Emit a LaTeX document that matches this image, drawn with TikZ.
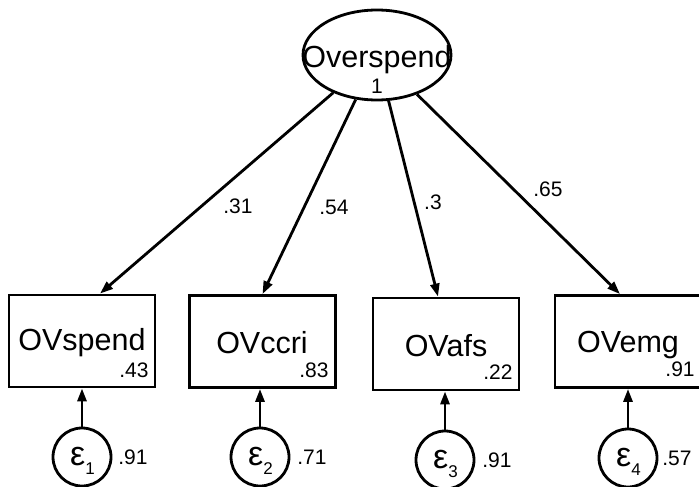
\documentclass[tikz,border=0pt]{standalone}
\usepackage{fontspec}
\setmainfont{Liberation Sans}
\usetikzlibrary{arrows.meta,shapes.geometric}

\begin{document}
\begin{tikzpicture}[x=1pt,y=-1pt,line width=2.8pt,
  latent/.style={draw,ellipse,minimum width=148pt,minimum height=90pt,inner sep=0pt},
  obs/.style={draw,rectangle,minimum width=146pt,minimum height=92pt,inner sep=0pt},
  err/.style={draw,circle,minimum size=58pt,inner sep=0pt},
  bigtxt/.style={font=\fontsize{30.5}{33}\selectfont,inner sep=0pt},
  esttxt/.style={font=\fontsize{21}{24}\selectfont,inner sep=0pt},
  load/.style={-{Triangle[length=13pt,width=9pt]}}]
\useasboundingbox (0,0) rectangle (699,487);
\clip (0,0) rectangle (699,487);

% latent factor
\node[latent] (ov) at (377,55) {};
\node[bigtxt] (ovname) at (377,60) {Overspend};
\node[esttxt] (ovvar) at (377,86) {1};

% observed indicators
\node[obs] (b1) at (82,341) {};
\node[obs] (b2) at (262.5,341.5) {};
\node[obs] (b3) at (446,344) {};
\node[obs] (b4) at (628,341.5) {};

\node[bigtxt] (t1) at (82,343) {OVspend};
\node[bigtxt] (t2) at (262,343) {OVccri};
\node[bigtxt] (t3) at (446,346) {OVafs};
\node[bigtxt] (t4) at (628,345) {OVemg};

\node[esttxt,anchor=east] (r1) at (150,370) {.43};
\node[esttxt,anchor=east] (r2) at (330,370) {.83};
\node[esttxt,anchor=east] (r3) at (514,372) {.22};
\node[esttxt,anchor=east] (r4) at (696,369) {.91};

% error terms
\newcommand{\errlab}[1]{\raisebox{-3pt}{\hspace*{1pt}{\fontsize{34}{34}\selectfont ε}\smash{\raisebox{-9pt}{\fontsize{17}{17}\selectfont #1}}}}
\node[err] (e1) at (82,457) {\errlab{1}};
\node[err] (e2) at (260,457) {\errlab{2}};
\node[err] (e3) at (445,460) {\errlab{3}};
\node[err] (e4) at (628,458) {\errlab{4}};

\node[esttxt,anchor=west] (v1) at (117,457) {.91};
\node[esttxt,anchor=west] (v2) at (296,457) {.71};
\node[esttxt,anchor=west] (v3) at (481,460) {.91};
\node[esttxt,anchor=west] (v4) at (661,458) {.57};

\draw[load] (e1.north) -- (e1.north |- b1.south);
\draw[load] (e2.north) -- (e2.north |- b2.south);
\draw[load] (e3.north) -- (e3.north |- b3.south);
\draw[load] (e4.north) -- (e4.north |- b4.south);

% factor loadings
\draw[load] (ov) -- ([xshift=18pt]b1.north);
\draw[load] (ov) -- (b2.north);
\draw[load] (ov) -- ([xshift=-8pt]b3.north);
\draw[load] (ov) -- ([xshift=-8pt]b4.north);

\node[esttxt] (l1) at (238,206) {.31};
\node[esttxt] (l2) at (334,207) {.54};
\node[esttxt] (l3) at (433,202) {.3};
\node[esttxt] (l4) at (548,189) {.65};
\end{tikzpicture}
\end{document}
